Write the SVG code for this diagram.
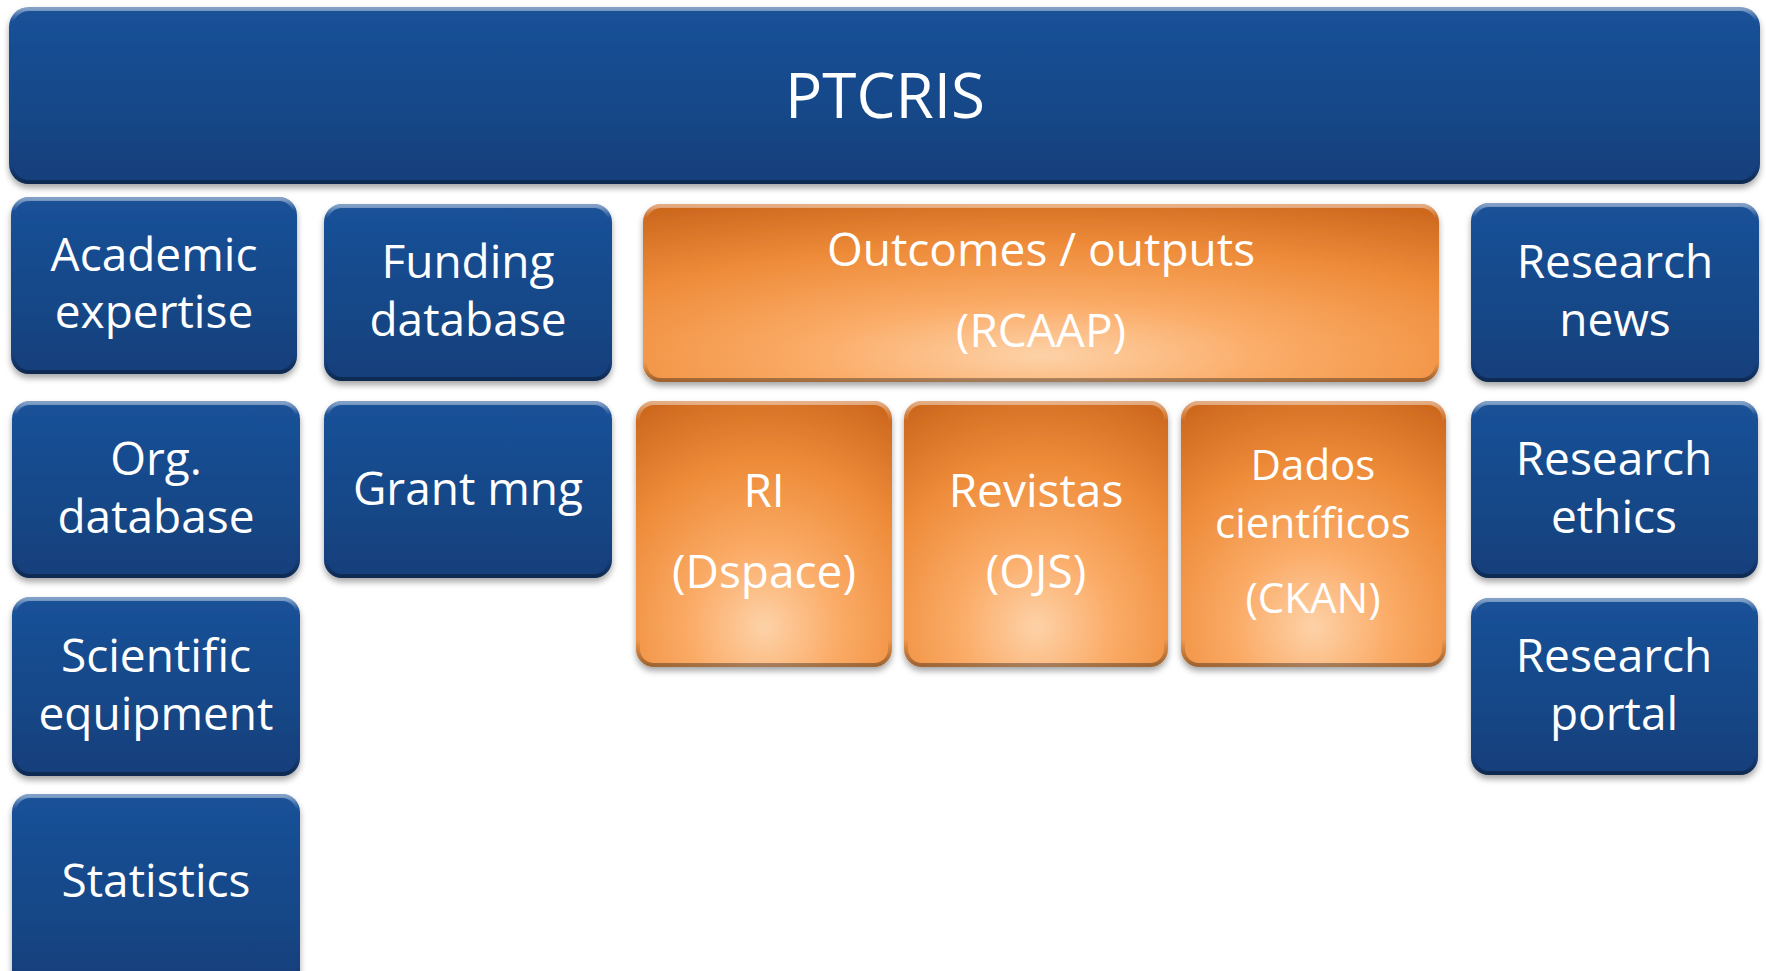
<svg xmlns="http://www.w3.org/2000/svg" width="1766" height="971" viewBox="0 0 1766 971">
<defs>
<linearGradient id="blue" x1="0" y1="0" x2="0" y2="1">
<stop offset="0" stop-color="#1a5299"/>
<stop offset="1" stop-color="#133f7b"/>
</linearGradient>
<radialGradient id="orange" cx="0.5" cy="0.85" r="0.95" fx="0.5" fy="0.85">
<stop offset="0" stop-color="#fdd2a8"/>
<stop offset="0.3" stop-color="#fbac68"/>
<stop offset="0.65" stop-color="#ee8c3a"/>
<stop offset="1" stop-color="#cc671d"/>
</radialGradient>
<linearGradient id="bevel" x1="0" y1="0" x2="0" y2="1">
<stop offset="0" stop-color="#ffffff" stop-opacity="0.45"/>
<stop offset="0.07" stop-color="#ffffff" stop-opacity="0"/>
<stop offset="0.9" stop-color="#000000" stop-opacity="0"/>
<stop offset="1" stop-color="#000000" stop-opacity="0.35"/>
</linearGradient>
<filter id="shadow" x="-5%" y="-5%" width="110%" height="120%">
<feDropShadow dx="0" dy="4" stdDeviation="3" flood-color="#000" flood-opacity="0.35"/>
</filter>
</defs>
<style>
.b{fill:url(#blue);filter:url(#shadow)}
.o{fill:url(#orange);filter:url(#shadow)}
.bv{fill:none;stroke:url(#bevel);stroke-width:4}
text{font-family:"Open Sans","Liberation Sans",sans-serif;fill:#ffffff;text-anchor:middle;font-size:46px}
.t{font-size:62px}
.s{font-size:42px}
</style>
<rect width="1766" height="971" fill="#ffffff"/>
<g id="connectors"></g>
<g id="ptcris">
<rect class="b" x="9" y="7" width="1751" height="177" rx="20"/>
<rect class="bv" x="11" y="9" width="1747" height="173" rx="18"/>
<text class="t" x="885" y="118">PTCRIS</text>
</g>
<g id="academic">
<rect class="b" x="11" y="197" width="286" height="177" rx="18"/>
<rect class="bv" x="13" y="199" width="282" height="173" rx="16"/>
<text x="154" y="271">Academic</text>
<text x="154" y="328">expertise</text>
</g>
<g id="funding">
<rect class="b" x="324" y="204" width="288" height="177" rx="18"/>
<rect class="bv" x="326" y="206" width="284" height="173" rx="16"/>
<text x="468" y="278">Funding</text>
<text x="468" y="336">database</text>
</g>
<g id="outcomes">
<rect class="o" x="643" y="204" width="796" height="178" rx="18"/>
<rect class="bv" x="645" y="206" width="792" height="174" rx="16"/>
<text x="1041" y="266">Outcomes / outputs</text>
<text x="1041" y="347">(RCAAP)</text>
</g>
<g id="research-news">
<rect class="b" x="1471" y="203" width="288" height="179" rx="18"/>
<rect class="bv" x="1473" y="205" width="284" height="175" rx="16"/>
<text x="1615" y="278">Research</text>
<text x="1615" y="336">news</text>
</g>
<g id="org-database">
<rect class="b" x="12" y="401" width="288" height="177" rx="18"/>
<rect class="bv" x="14" y="403" width="284" height="173" rx="16"/>
<text x="156" y="475">Org.</text>
<text x="156" y="533">database</text>
</g>
<g id="grant-mng">
<rect class="b" x="324" y="401" width="288" height="177" rx="18"/>
<rect class="bv" x="326" y="403" width="284" height="173" rx="16"/>
<text x="468" y="505">Grant mng</text>
</g>
<g id="ri">
<rect class="o" x="636" y="401" width="256" height="266" rx="18"/>
<rect class="bv" x="638" y="403" width="252" height="262" rx="16"/>
<text x="764" y="507">RI</text>
<text x="764" y="588">(Dspace)</text>
</g>
<g id="revistas">
<rect class="o" x="904" y="401" width="264" height="266" rx="18"/>
<rect class="bv" x="906" y="403" width="260" height="262" rx="16"/>
<text x="1036" y="507">Revistas</text>
<text x="1036" y="588">(OJS)</text>
</g>
<g id="dados">
<rect class="o" x="1181" y="401" width="265" height="266" rx="18"/>
<rect class="bv" x="1183" y="403" width="261" height="262" rx="16"/>
<text class="s" x="1313" y="480">Dados</text>
<text class="s" x="1313" y="538">científicos</text>
<text class="s" x="1313" y="613">(CKAN)</text>
</g>
<g id="research-ethics">
<rect class="b" x="1471" y="401" width="287" height="177" rx="18"/>
<rect class="bv" x="1473" y="403" width="283" height="173" rx="16"/>
<text x="1614" y="475">Research</text>
<text x="1614" y="533">ethics</text>
</g>
<g id="scientific-equipment">
<rect class="b" x="12" y="597" width="288" height="179" rx="18"/>
<rect class="bv" x="14" y="599" width="284" height="175" rx="16"/>
<text x="156" y="672">Scientific</text>
<text x="156" y="730">equipment</text>
</g>
<g id="statistics">
<rect class="b" x="12" y="794" width="288" height="195" rx="18"/>
<rect class="bv" x="14" y="796" width="284" height="191" rx="16"/>
<text x="156" y="897">Statistics</text>
</g>
<g id="research-portal">
<rect class="b" x="1471" y="598" width="287" height="177" rx="18"/>
<rect class="bv" x="1473" y="600" width="283" height="173" rx="16"/>
<text x="1614" y="672">Research</text>
<text x="1614" y="730">portal</text>
</g>
</svg>
